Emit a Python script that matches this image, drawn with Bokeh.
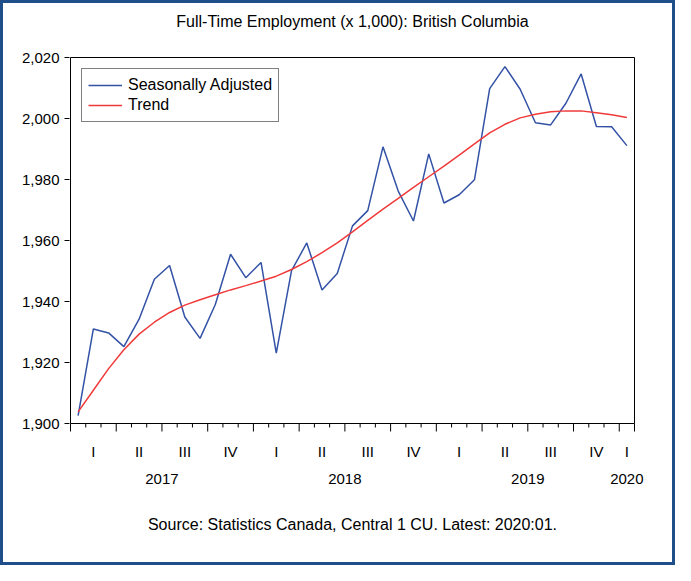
from bokeh.plotting import figure
from bokeh.models import (FixedTicker, LinearAxis, NumeralTickFormatter, Range1d,
                          Legend, LegendItem)
from bokeh.embed import file_html
from bokeh.resources import INLINE

chart_title = "Full-Time Employment (x 1,000): British Columbia"
source_note = "Source: Statistics Canada, Central 1 CU. Latest: 2020:01."

# monthly index: 0 = 2017:01 ... 36 = 2020:01
months = list(range(37))
seasonally_adjusted = [
    1902.6, 1931.0, 1929.7, 1925.2, 1934.2, 1947.3, 1951.8, 1934.9, 1927.9, 1939.0,
    1955.5, 1947.8, 1952.8, 1923.1, 1950.1, 1959.2, 1943.8, 1949.2, 1964.8, 1969.8,
    1990.7, 1976.2, 1966.4, 1988.4, 1972.3, 1975.0, 1979.9, 2009.8, 2017.0, 2009.6,
    1998.6, 1997.9, 2005.0, 2014.6, 1997.4, 1997.3, 1991.1,
]
trend = [
    1903.8, 1910.9, 1918.0, 1924.2, 1929.3, 1933.2, 1936.4, 1938.8, 1940.6, 1942.2,
    1943.8, 1945.2, 1946.7, 1948.3, 1950.5, 1953.1, 1956.0, 1959.2, 1962.8, 1966.6,
    1970.3, 1973.8, 1977.4, 1980.9, 1984.4, 1988.0, 1991.7, 1995.3, 1998.1, 2000.2,
    2001.4, 2002.2, 2002.5, 2002.5, 2001.9, 2001.2, 2000.3,
]
quarter_labels = ["I", "II", "III", "IV"]
year_labels = ["2017", "2018", "2019", "2020"]
first_year = 2017
y_ticks = [1900, 1920, 1940, 1960, 1980, 2000, 2020]

FONT = "Liberation Sans"
BLUE = "#3352a6"
RED = "#f03a3a"

# layout (pixels, inside the outer border)
FIG_W, FIG_H = 669, 559
BOX_L, BOX_T, BOX_W, BOX_H = 67, 54, 564, 366
PAD = 1          # frame margin around the visible box
TICK_ZONE = 9    # frame extension below the box for the x tick marks
LONG_TICK, SHORT_TICK = 8, 4

n = len(months)
x0, x1 = months[0] - 0.5, months[-1] + 0.5
y0, y1 = y_ticks[0], y_ticks[-1]
xpp = (x1 - x0) / BOX_W
ypp = (y1 - y0) / BOX_H

frame_w = BOX_W + 2 * PAD
frame_h = PAD + BOX_H + TICK_ZONE
left_b = BOX_L - PAD
top_b = BOX_T - PAD

p = figure(frame_width=frame_w, frame_height=frame_h,
           min_border_left=left_b, min_border_right=FIG_W - left_b - frame_w,
           min_border_top=top_b, min_border_bottom=FIG_H - top_b - frame_h,
           x_range=Range1d(x0 - PAD * xpp, x1 + PAD * xpp),
           y_range=Range1d(y0 - TICK_ZONE * ypp, y1 + PAD * ypp),
           output_backend="svg", toolbar_location=None, x_axis_location=None)
p.styles = {"border": "3px solid #1f4e8a"}
p.background_fill_color = "white"
p.border_fill_color = "white"
p.outline_line_color = None
p.xgrid.visible = False
p.ygrid.visible = False
p.title.visible = False

# title as the label of an empty top axis
title_axis = LinearAxis(ticker=FixedTicker(ticks=[], minor_ticks=[]),
                        axis_line_color=None, major_tick_line_color=None,
                        minor_tick_line_color=None,
                        axis_label=chart_title, axis_label_standoff=27,
                        axis_label_text_font=FONT, axis_label_text_font_size="16px",
                        axis_label_text_font_style="normal",
                        axis_label_text_color="black")
p.add_layout(title_axis, "above")

# left axis
p.yaxis.ticker = FixedTicker(ticks=y_ticks, minor_ticks=[])
p.yaxis.formatter = NumeralTickFormatter(format="0,0")
p.yaxis.major_tick_out = 5
p.yaxis.major_tick_in = 0
p.yaxis.minor_tick_line_color = None
p.yaxis.major_label_text_font = FONT
p.yaxis.major_label_text_font_size = "15px"
p.yaxis.major_label_text_color = "black"
p.yaxis.major_label_standoff = 5
p.yaxis.axis_line_color = None

# plot box
p.quad(left=[x0], right=[x1], bottom=[y0], top=[y1],
       fill_color=None, line_color="black", line_width=1)

# x tick marks: long at quarter boundaries, short at month boundaries
bounds = [m - 0.5 for m in months] + [x1]
long_b = [b for b in bounds if (b + 0.5) % 3 == 0 or b in (x0, x1)]
short_b = [b for b in bounds if b not in long_b]
p.segment(x0=long_b, x1=long_b, y0=[y0] * len(long_b),
          y1=[y0 - LONG_TICK * ypp] * len(long_b), line_color="black", line_width=1)
p.segment(x0=short_b, x1=short_b, y0=[y0] * len(short_b),
          y1=[y0 - SHORT_TICK * ypp] * len(short_b), line_color="black", line_width=1)

# quarter labels axis
q_pos, q_over = [], {}
for m in months:
    if m % 3 == 0:
        pos = m + 1 if m + 1 < n else m
        q_pos.append(pos)
        q_over[pos] = quarter_labels[(m // 3) % 4]
q_axis = LinearAxis(ticker=FixedTicker(ticks=q_pos, minor_ticks=[]),
                    major_label_overrides=q_over,
                    axis_line_color=None, major_tick_line_color=None,
                    minor_tick_line_color=None,
                    major_tick_out=0, major_tick_in=0,
                    major_label_standoff=10,
                    major_label_text_font=FONT, major_label_text_font_size="15px",
                    major_label_text_color="black")
p.add_layout(q_axis, "below")

# year labels axis (+ source note)
y_pos, y_over = [], {}
for i, yl in enumerate(year_labels):
    ms = [m for m in months if m // 12 == i]
    pos = sum(ms) / len(ms)
    y_pos.append(pos)
    y_over[pos] = yl
yr_axis = LinearAxis(ticker=FixedTicker(ticks=y_pos, minor_ticks=[]),
                     major_label_overrides=y_over,
                     axis_line_color=None, major_tick_line_color=None,
                     minor_tick_line_color=None,
                     major_tick_out=0, major_tick_in=0,
                     major_label_standoff=11,
                     major_label_text_font=FONT, major_label_text_font_size="15px",
                     major_label_text_color="black",
                     axis_label=source_note, axis_label_standoff=29,
                     axis_label_text_font=FONT, axis_label_text_font_size="16px",
                     axis_label_text_font_style="normal",
                     axis_label_text_color="black")
p.add_layout(yr_axis, "below")

r_sa = p.line(months, seasonally_adjusted, line_color=BLUE, line_width=1.5)
r_tr = p.line(months, trend, line_color=RED, line_width=1.5)

legend = Legend(items=[LegendItem(label="Seasonally Adjusted", renderers=[r_sa]),
                       LegendItem(label="Trend", renderers=[r_tr])],
                location="top_left", margin=12, padding=6, spacing=0,
                label_height=20, glyph_height=20, glyph_width=34, label_standoff=6,
                label_text_font=FONT, label_text_font_size="16px",
                label_text_color="black",
                border_line_color="black", border_line_width=1,
                background_fill_color="white", background_fill_alpha=1)
p.add_layout(legend)

open("out.html", "w").write(file_html(p, INLINE))
